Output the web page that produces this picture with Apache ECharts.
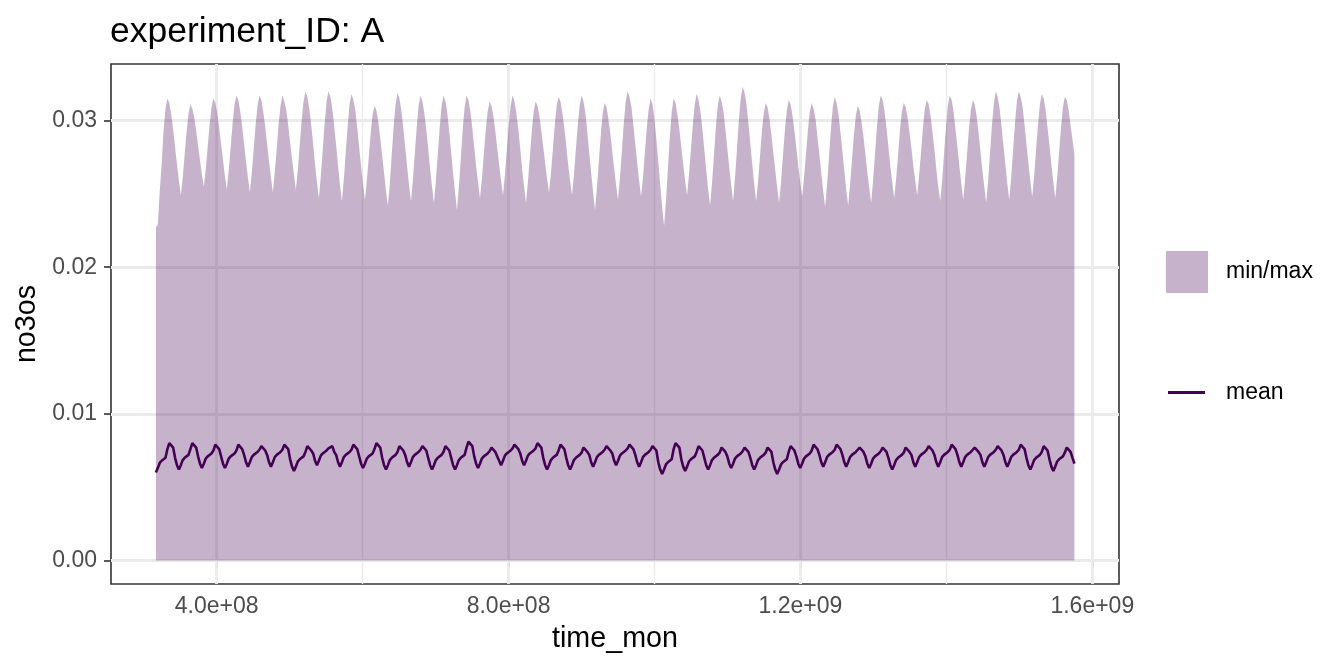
<!DOCTYPE html>
<html>
<head>
<meta charset="utf-8">
<title>experiment_ID: A</title>
<script src="https://cdn.jsdelivr.net/npm/echarts@6/dist/echarts.min.js"></script>
<style>
  html, body { margin: 0; padding: 0; background: #ffffff; }
  #chart { width: 1344px; height: 672px; }
</style>
</head>
<body>
<div id="chart"></div>
<script>
// monthly output, model years 10..49, time in seconds
const yearSeconds = 365 * 86400
const firstYear = 10
const nMonths = 480
const time_mon = []
for (let i = 0; i < nMonths; i++) {
  time_mon.push(firstYear * yearSeconds + (i + 0.5) * yearSeconds / 12)
}

// upper edge of the min/max ribbon (lower edge reads as 0 everywhere)
const maxVals = [
  0.0227, 0.0229, 0.0252, 0.0270, 0.0293, 0.0308, 0.0315, 0.0312, 0.0304, 0.0294, 0.0282, 0.0270,
  0.0259, 0.0249, 0.0261, 0.0277, 0.0292, 0.0305, 0.0311, 0.0308, 0.0302, 0.0293, 0.0283, 0.0273,
  0.0263, 0.0255, 0.0267, 0.0282, 0.0297, 0.0309, 0.0315, 0.0312, 0.0305, 0.0295, 0.0284, 0.0273,
  0.0262, 0.0253, 0.0266, 0.0282, 0.0298, 0.0311, 0.0317, 0.0314, 0.0306, 0.0296, 0.0284, 0.0272,
  0.0261, 0.0251, 0.0264, 0.0281, 0.0297, 0.0310, 0.0317, 0.0314, 0.0306, 0.0296, 0.0284, 0.0272,
  0.0261, 0.0251, 0.0265, 0.0280, 0.0298, 0.0310, 0.0317, 0.0313, 0.0307, 0.0297, 0.0285, 0.0274,
  0.0263, 0.0253, 0.0266, 0.0283, 0.0300, 0.0313, 0.0320, 0.0316, 0.0308, 0.0297, 0.0284, 0.0270,
  0.0258, 0.0247, 0.0262, 0.0280, 0.0298, 0.0313, 0.0320, 0.0316, 0.0308, 0.0296, 0.0283, 0.0269,
  0.0256, 0.0245, 0.0260, 0.0278, 0.0296, 0.0311, 0.0318, 0.0314, 0.0307, 0.0295, 0.0282, 0.0269,
  0.0257, 0.0246, 0.0259, 0.0275, 0.0291, 0.0304, 0.0310, 0.0307, 0.0299, 0.0288, 0.0276, 0.0264,
  0.0252, 0.0242, 0.0257, 0.0277, 0.0296, 0.0311, 0.0319, 0.0315, 0.0307, 0.0295, 0.0282, 0.0269,
  0.0256, 0.0245, 0.0259, 0.0277, 0.0295, 0.0310, 0.0317, 0.0313, 0.0305, 0.0294, 0.0281, 0.0267,
  0.0255, 0.0244, 0.0259, 0.0277, 0.0295, 0.0310, 0.0317, 0.0313, 0.0305, 0.0292, 0.0278, 0.0264,
  0.0251, 0.0239, 0.0255, 0.0274, 0.0294, 0.0309, 0.0317, 0.0314, 0.0306, 0.0295, 0.0282, 0.0269,
  0.0258, 0.0247, 0.0260, 0.0277, 0.0293, 0.0306, 0.0313, 0.0310, 0.0303, 0.0293, 0.0281, 0.0270,
  0.0259, 0.0249, 0.0263, 0.0280, 0.0297, 0.0310, 0.0317, 0.0313, 0.0305, 0.0294, 0.0281, 0.0267,
  0.0255, 0.0244, 0.0258, 0.0275, 0.0292, 0.0306, 0.0313, 0.0310, 0.0303, 0.0293, 0.0282, 0.0271,
  0.0260, 0.0251, 0.0264, 0.0280, 0.0297, 0.0310, 0.0316, 0.0313, 0.0305, 0.0295, 0.0283, 0.0270,
  0.0259, 0.0249, 0.0263, 0.0280, 0.0297, 0.0310, 0.0317, 0.0313, 0.0305, 0.0292, 0.0278, 0.0264,
  0.0251, 0.0239, 0.0254, 0.0272, 0.0290, 0.0305, 0.0312, 0.0309, 0.0301, 0.0291, 0.0279, 0.0267,
  0.0256, 0.0246, 0.0261, 0.0279, 0.0298, 0.0313, 0.0320, 0.0316, 0.0309, 0.0297, 0.0284, 0.0271,
  0.0259, 0.0248, 0.0261, 0.0278, 0.0295, 0.0308, 0.0315, 0.0311, 0.0301, 0.0287, 0.0272, 0.0256,
  0.0241, 0.0228, 0.0245, 0.0267, 0.0289, 0.0306, 0.0315, 0.0312, 0.0304, 0.0294, 0.0282, 0.0270,
  0.0259, 0.0249, 0.0263, 0.0280, 0.0297, 0.0311, 0.0318, 0.0314, 0.0306, 0.0294, 0.0280, 0.0266,
  0.0253, 0.0242, 0.0257, 0.0276, 0.0295, 0.0310, 0.0317, 0.0313, 0.0306, 0.0294, 0.0281, 0.0268,
  0.0256, 0.0245, 0.0261, 0.0280, 0.0300, 0.0315, 0.0323, 0.0319, 0.0311, 0.0298, 0.0284, 0.0270,
  0.0257, 0.0245, 0.0258, 0.0275, 0.0292, 0.0305, 0.0312, 0.0309, 0.0301, 0.0290, 0.0278, 0.0266,
  0.0254, 0.0244, 0.0258, 0.0276, 0.0293, 0.0307, 0.0314, 0.0311, 0.0303, 0.0293, 0.0281, 0.0269,
  0.0258, 0.0248, 0.0261, 0.0277, 0.0293, 0.0306, 0.0312, 0.0308, 0.0301, 0.0289, 0.0277, 0.0264,
  0.0252, 0.0241, 0.0256, 0.0275, 0.0294, 0.0309, 0.0316, 0.0312, 0.0304, 0.0292, 0.0279, 0.0266,
  0.0253, 0.0242, 0.0256, 0.0273, 0.0290, 0.0303, 0.0310, 0.0307, 0.0299, 0.0289, 0.0277, 0.0265,
  0.0254, 0.0244, 0.0259, 0.0277, 0.0295, 0.0310, 0.0317, 0.0314, 0.0306, 0.0295, 0.0282, 0.0269,
  0.0258, 0.0247, 0.0260, 0.0276, 0.0293, 0.0306, 0.0312, 0.0309, 0.0302, 0.0292, 0.0281, 0.0269,
  0.0259, 0.0249, 0.0262, 0.0278, 0.0295, 0.0308, 0.0314, 0.0311, 0.0303, 0.0292, 0.0280, 0.0267,
  0.0255, 0.0245, 0.0259, 0.0277, 0.0295, 0.0310, 0.0317, 0.0314, 0.0306, 0.0294, 0.0282, 0.0269,
  0.0257, 0.0246, 0.0260, 0.0277, 0.0294, 0.0307, 0.0314, 0.0311, 0.0303, 0.0292, 0.0279, 0.0266,
  0.0255, 0.0244, 0.0259, 0.0278, 0.0297, 0.0312, 0.0320, 0.0316, 0.0308, 0.0296, 0.0283, 0.0270,
  0.0257, 0.0246, 0.0261, 0.0279, 0.0298, 0.0313, 0.0320, 0.0316, 0.0309, 0.0297, 0.0284, 0.0271,
  0.0259, 0.0248, 0.0262, 0.0280, 0.0297, 0.0311, 0.0318, 0.0315, 0.0307, 0.0295, 0.0283, 0.0270,
  0.0258, 0.0247, 0.0261, 0.0278, 0.0295, 0.0309, 0.0316, 0.0314, 0.0307, 0.0297, 0.0287, 0.0277
]

// mean line
const meanVals = [
  0.0060, 0.0063, 0.00665, 0.0068, 0.00675, 0.0070, 0.0076, 0.0080, 0.0081, 0.0077, 0.0070, 0.0065,
  0.0062, 0.0065, 0.00685, 0.0070, 0.00695, 0.0072, 0.0076, 0.0080, 0.0081, 0.0077, 0.0071, 0.0066,
  0.0063, 0.0066, 0.00695, 0.0071, 0.00705, 0.0073, 0.0075, 0.0079, 0.0080, 0.0076, 0.0071, 0.0066,
  0.0063, 0.0066, 0.00695, 0.0071, 0.00705, 0.0073, 0.0075, 0.0079, 0.0080, 0.0076, 0.0072, 0.0067,
  0.0064, 0.0067, 0.00705, 0.0072, 0.00715, 0.0074, 0.00755, 0.0078, 0.0079, 0.0075, 0.0072, 0.0067,
  0.0064, 0.0067, 0.00705, 0.0072, 0.00715, 0.0074, 0.00755, 0.0079, 0.0080, 0.0076, 0.0069, 0.0064,
  0.0061, 0.0064, 0.00675, 0.0069, 0.00685, 0.0071, 0.0074, 0.0078, 0.0079, 0.0075, 0.0073, 0.0068,
  0.0065, 0.0068, 0.00715, 0.0073, 0.00725, 0.0075, 0.00765, 0.0077, 0.0078, 0.0074, 0.0072, 0.0067,
  0.0064, 0.0067, 0.00705, 0.0072, 0.00715, 0.0074, 0.00755, 0.0079, 0.0080, 0.0076, 0.0071, 0.0066,
  0.0063, 0.0066, 0.00695, 0.0071, 0.00705, 0.0073, 0.0076, 0.0080, 0.0081, 0.0077, 0.0070, 0.0065,
  0.0062, 0.0065, 0.00685, 0.0070, 0.00695, 0.0072, 0.0074, 0.0078, 0.0079, 0.0075, 0.0072, 0.0067,
  0.0064, 0.0067, 0.00705, 0.0072, 0.00715, 0.0074, 0.00755, 0.0078, 0.0079, 0.0075, 0.0070, 0.0065,
  0.0062, 0.0065, 0.00685, 0.0070, 0.00695, 0.0072, 0.0074, 0.0078, 0.0079, 0.0075, 0.0070, 0.0065,
  0.0062, 0.0065, 0.00685, 0.0070, 0.00695, 0.0072, 0.0077, 0.0081, 0.0082, 0.0078, 0.0071, 0.0066,
  0.0063, 0.0066, 0.00695, 0.0071, 0.00705, 0.0073, 0.00745, 0.0077, 0.0078, 0.0074, 0.0073, 0.0068,
  0.0065, 0.0068, 0.00715, 0.0073, 0.00725, 0.0075, 0.00765, 0.0079, 0.0080, 0.0076, 0.0073, 0.0068,
  0.0065, 0.0068, 0.00715, 0.0073, 0.00725, 0.0075, 0.00765, 0.0080, 0.0081, 0.0077, 0.0070, 0.0065,
  0.0062, 0.0065, 0.00685, 0.0070, 0.00695, 0.0072, 0.0075, 0.0079, 0.0080, 0.0076, 0.0070, 0.0065,
  0.0062, 0.0065, 0.00685, 0.0070, 0.00695, 0.0072, 0.00735, 0.0077, 0.0078, 0.0074, 0.0072, 0.0067,
  0.0064, 0.0067, 0.00705, 0.0072, 0.00715, 0.0074, 0.00755, 0.0078, 0.0079, 0.0075, 0.0073, 0.0068,
  0.0065, 0.0068, 0.00715, 0.0073, 0.00725, 0.0075, 0.00765, 0.0079, 0.0080, 0.0076, 0.0072, 0.0067,
  0.0064, 0.0067, 0.00705, 0.0072, 0.00715, 0.0074, 0.00755, 0.0078, 0.0079, 0.0075, 0.0067, 0.0062,
  0.0059, 0.0062, 0.00655, 0.0067, 0.00665, 0.0069, 0.0076, 0.0080, 0.0081, 0.0077, 0.0069, 0.0064,
  0.0061, 0.0064, 0.00675, 0.0069, 0.00685, 0.0071, 0.0074, 0.0078, 0.0079, 0.0075, 0.0070, 0.0065,
  0.0062, 0.0065, 0.00685, 0.0070, 0.00695, 0.0072, 0.00735, 0.0077, 0.0078, 0.0074, 0.0071, 0.0066,
  0.0063, 0.0066, 0.00695, 0.0071, 0.00705, 0.0073, 0.00745, 0.0077, 0.0078, 0.0074, 0.0070, 0.0065,
  0.0062, 0.0065, 0.00685, 0.0070, 0.00695, 0.0072, 0.00735, 0.0077, 0.0078, 0.0074, 0.0067, 0.0062,
  0.0059, 0.0062, 0.00655, 0.0067, 0.00665, 0.0069, 0.0074, 0.0078, 0.0079, 0.0075, 0.0071, 0.0066,
  0.0063, 0.0066, 0.00695, 0.0071, 0.00705, 0.0073, 0.0075, 0.0079, 0.0080, 0.0076, 0.0072, 0.0067,
  0.0064, 0.0067, 0.00705, 0.0072, 0.00715, 0.0074, 0.00755, 0.0079, 0.0080, 0.0076, 0.0072, 0.0067,
  0.0064, 0.0067, 0.00705, 0.0072, 0.00715, 0.0074, 0.00755, 0.0077, 0.0078, 0.0074, 0.0071, 0.0066,
  0.0063, 0.0066, 0.00695, 0.0071, 0.00705, 0.0073, 0.00745, 0.0077, 0.0078, 0.0074, 0.0070, 0.0065,
  0.0062, 0.0065, 0.00685, 0.0070, 0.00695, 0.0072, 0.00735, 0.0077, 0.0078, 0.0074, 0.0072, 0.0067,
  0.0064, 0.0067, 0.00705, 0.0072, 0.00715, 0.0074, 0.00755, 0.0078, 0.0079, 0.0075, 0.0072, 0.0067,
  0.0064, 0.0067, 0.00705, 0.0072, 0.00715, 0.0074, 0.00755, 0.0079, 0.0080, 0.0076, 0.0072, 0.0067,
  0.0064, 0.0067, 0.00705, 0.0072, 0.00715, 0.0074, 0.00755, 0.0077, 0.0078, 0.0074, 0.0072, 0.0067,
  0.0064, 0.0067, 0.00705, 0.0072, 0.00715, 0.0074, 0.00755, 0.0078, 0.0079, 0.0075, 0.0072, 0.0067,
  0.0064, 0.0067, 0.00705, 0.0072, 0.00715, 0.0074, 0.00755, 0.0079, 0.0080, 0.0076, 0.0070, 0.0065,
  0.0062, 0.0065, 0.00685, 0.0070, 0.00695, 0.0072, 0.0074, 0.0078, 0.0079, 0.0075, 0.0069, 0.0064,
  0.0061, 0.0064, 0.00675, 0.0069, 0.00685, 0.0071, 0.00735, 0.0077, 0.0078, 0.0074, 0.0070, 0.0066
]

// axis ticks and grid lines
const xTicks = [4e8, 8e8, 1.2e9, 1.6e9]
const xMinor = [6e8, 1.0e9, 1.4e9]
const yTicks = [0, 0.01, 0.02, 0.03]
const yMinor = [0.005, 0.015, 0.025]

const FONT = '"Liberation Sans", Arial, Helvetica, sans-serif'
const RIBBON = 'rgba(68, 1, 84, 0.3)'
const MEAN = '#440154'

const chart = echarts.init(document.getElementById('chart'))

// ggplot-style grid lines, drawn under the ribbon
const gridLines = [
  ...xMinor.map(v => ({ xAxis: v, lineStyle: { width: 1.4 } })),
  ...yMinor.map(v => ({ yAxis: v, lineStyle: { width: 1.4 } })),
  ...xTicks.map(v => ({ xAxis: v, lineStyle: { width: 2.8 } })),
  ...yTicks.map(v => ({ yAxis: v, lineStyle: { width: 2.8 } }))
]

const legendText = { fontFamily: FONT, fontSize: 23, color: '#000000' }

const option = {
  animation: false,
  title: {
    text: 'experiment_ID: A',
    left: 110,
    top: 14,
    padding: 0,
    textStyle: { fontFamily: FONT, fontSize: 35.5, fontWeight: 'normal', color: '#000000' }
  },
  grid: {
    left: 111,
    right: 225,
    top: 64,
    bottom: 88,
    show: true,
    borderColor: '#333333',
    borderWidth: 1.6,
    backgroundColor: 'transparent'
  },
  legend: [
    {
      data: [{ name: 'min/max', icon: 'rect', itemStyle: { color: RIBBON, borderWidth: 0 } }],
      left: 1166,
      top: 251,
      padding: 0,
      itemWidth: 42,
      itemHeight: 42,
      selectedMode: false,
      textStyle: Object.assign({ padding: [0, 0, 0, 13] }, legendText)
    },
    {
      data: [{ name: 'mean', icon: 'rect', itemStyle: { color: MEAN, borderWidth: 0 } }],
      left: 1168,
      top: 381,
      padding: 0,
      itemWidth: 37,
      itemHeight: 3,
      selectedMode: false,
      textStyle: Object.assign({ padding: [0, 0, 0, 16] }, legendText)
    }
  ],
  xAxis: {
    type: 'value',
    min: 2.5515e8,
    max: 1.6366e9,
    name: 'time_mon',
    nameLocation: 'middle',
    nameGap: 41,
    nameTextStyle: { fontFamily: FONT, fontSize: 28.7, color: '#000000' },
    axisLine: { show: false },
    axisTick: {
      show: true,
      customValues: xTicks,
      length: 7,
      lineStyle: { color: '#333333', width: 1.6 }
    },
    axisLabel: {
      customValues: xTicks,
      margin: 11,
      fontFamily: FONT,
      fontSize: 23,
      color: '#4D4D4D',
      formatter: v => v.toExponential(1).replace('e+', 'e+0')
    },
    splitLine: { show: false }
  },
  yAxis: {
    type: 'value',
    min: -0.001602,
    max: 0.033852,
    name: 'no3os',
    nameLocation: 'middle',
    nameGap: 64,
    nameTextStyle: { fontFamily: FONT, fontSize: 28.7, color: '#000000' },
    axisLine: { show: false },
    axisTick: {
      show: true,
      customValues: yTicks,
      length: 7,
      lineStyle: { color: '#333333', width: 1.6 }
    },
    axisLabel: {
      customValues: yTicks,
      margin: 14,
      fontFamily: FONT,
      fontSize: 23,
      color: '#4D4D4D',
      formatter: v => v.toFixed(2)
    },
    splitLine: { show: false }
  },
  series: [
    {
      name: 'min/max',
      type: 'line',
      data: maxVals.map((v, i) => [time_mon[i], v]),
      symbol: 'none',
      lineStyle: { width: 0 },
      itemStyle: { color: RIBBON },
      areaStyle: { color: RIBBON, opacity: 1 },
      silent: true,
      z: 3,
      markLine: {
        silent: true,
        z: 1,
        symbol: ['none', 'none'],
        label: { show: false },
        lineStyle: { color: '#EBEBEB', type: 'solid' },
        data: gridLines
      }
    },
    {
      name: 'mean',
      type: 'line',
      data: meanVals.map((v, i) => [time_mon[i], v]),
      symbol: 'none',
      lineStyle: { color: MEAN, width: 2.6 },
      itemStyle: { color: MEAN },
      silent: true,
      z: 4
    }
  ]
}

chart.setOption(option)
</script>
</body>
</html>
